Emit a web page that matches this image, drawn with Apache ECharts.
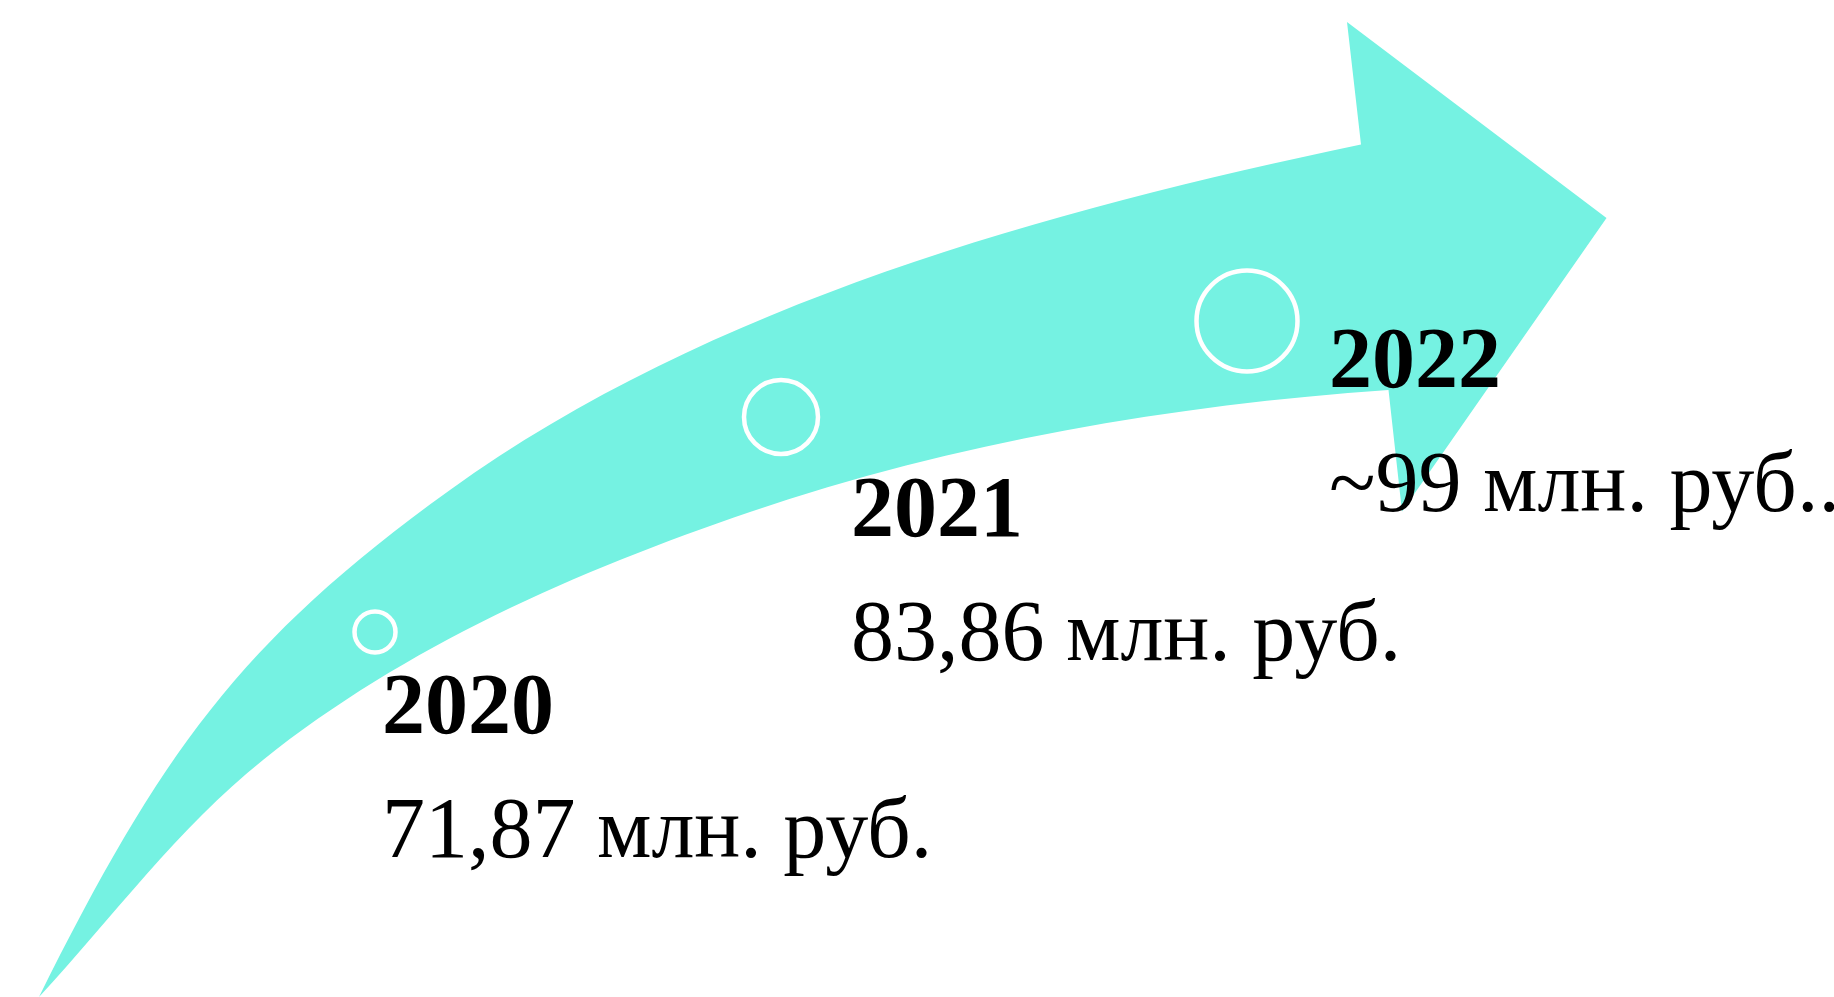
<!DOCTYPE html>
<html>
<head>
<meta charset="utf-8">
<script src="https://cdn.jsdelivr.net/npm/echarts@6/dist/echarts.min.js"></script>
<style>
  html, body { margin: 0; padding: 0; background: #ffffff; }
  #chart { width: 1834px; height: 997px; }
</style>
</head>
<body>
<div id="chart"></div>
<script>
// Revenue milestones
const years = ['2020', '2021', '2022'];
const revenue = [71.87, 83.86, 99];          // млн. руб.
const approximate = [false, false, true];
const unitText = 'млн. руб.';
const labelTail = ['', '', '.'];

// Drawing space: one unit per canvas pixel
const W = 1834, H = 997;

// Curved arrow outline as chains of cubic Bezier pieces:
// start point, then (control 1, control 2, end point) for every piece.
// Upper edge runs from the tail up to the head notch.
const arrowUpperCurve = [
  [39, 997],
  [160, 755], [238.9, 641.8], [450, 490],
  [709.8, 303.1], [1047.7, 210.4], [1361, 144.5]
];
// Arrow head: top barb, tip, bottom barb, lower notch
const arrowHead = [[1347, 22], [1606.5, 218], [1402, 511.5], [1388.5, 390]];
// Lower edge runs from the head notch back down to the tail.
const arrowLowerCurve = [
  [1388.5, 390],
  [1172, 405.1], [955.5, 442.1], [750, 512],
  [577.7, 570.6], [405.1, 646.3], [263, 760],
  [177.9, 828.1], [113, 917], [39, 997]
];

// Milestone rings and their caption anchors
const milestoneCenters = [[375, 632], [781, 417], [1247, 321]];
const milestoneDiameters = [41, 74, 101];
const labelAnchors = [[382, 711], [851, 514], [1329, 365]];
const labelLineGap = 123;

const TEAL = '#75f2e2';
const FONT_FAMILY = "'Liberation Serif', 'Times New Roman', serif";
const FONT_SIZE = 86;

function formatValue(v, approx) {
  const s = Number.isInteger(v) ? String(v) : v.toFixed(2).replace('.', ',');
  return (approx ? '~' : '') + s;
}

// Bezier chain (already in pixel space) to path commands, without the initial move
function bezierCommands(pts) {
  let d = '';
  for (let i = 1; i + 2 < pts.length; i += 3) {
    d += ' C' + pts[i][0] + ' ' + pts[i][1] + ' ' +
         pts[i + 1][0] + ' ' + pts[i + 1][1] + ' ' +
         pts[i + 2][0] + ' ' + pts[i + 2][1];
  }
  return d;
}

const chart = echarts.init(document.getElementById('chart'), null, { renderer: 'canvas' });

chart.setOption({
  backgroundColor: '#ffffff',
  animation: false,
  grid: { left: 0, right: 0, top: 0, bottom: 0, containLabel: false },
  xAxis: { type: 'value', min: 0, max: W, show: false },
  yAxis: { type: 'value', min: 0, max: H, inverse: true, show: false },
  series: [
    {
      // the sweeping arrow
      type: 'custom',
      silent: true,
      z: 1,
      clip: false,
      data: [0],
      renderItem: function (params, api) {
        const up = arrowUpperCurve.map(p => api.coord(p));
        const head = arrowHead.map(p => api.coord(p));
        const low = arrowLowerCurve.map(p => api.coord(p));
        let d = 'M' + up[0][0] + ' ' + up[0][1] + bezierCommands(up);
        head.forEach(p => { d += ' L' + p[0] + ' ' + p[1]; });
        d += bezierCommands(low) + ' Z';
        return {
          type: 'path',
          shape: { pathData: d },
          style: { fill: TEAL, stroke: null }
        };
      }
    },
    {
      // milestone rings on the arrow
      type: 'scatter',
      silent: true,
      z: 2,
      symbol: 'circle',
      data: milestoneCenters.map((c, i) => ({ value: c, symbolSize: milestoneDiameters[i] })),
      itemStyle: { color: 'rgba(0,0,0,0)', borderColor: '#ffffff', borderWidth: 4.5, opacity: 1 }
    },
    {
      // year and revenue captions
      type: 'custom',
      silent: true,
      z: 3,
      clip: false,
      data: years.map((y, i) => i),
      renderItem: function (params, api) {
        const i = params.dataIndex;
        const a = api.coord(labelAnchors[i]);
        const b = api.coord([labelAnchors[i][0], labelAnchors[i][1] + labelLineGap]);
        return {
          type: 'group',
          children: [
            {
              type: 'text',
              x: a[0], y: a[1],
              style: {
                text: years[i],
                font: 'bold ' + FONT_SIZE + 'px ' + FONT_FAMILY,
                fill: '#000000',
                align: 'left',
                verticalAlign: 'middle'
              }
            },
            {
              type: 'text',
              x: b[0], y: b[1],
              style: {
                text: formatValue(revenue[i], approximate[i]) + ' ' + unitText + labelTail[i],
                font: FONT_SIZE + 'px ' + FONT_FAMILY,
                fill: '#000000',
                align: 'left',
                verticalAlign: 'middle'
              }
            }
          ]
        };
      }
    }
  ]
});
</script>
</body>
</html>
